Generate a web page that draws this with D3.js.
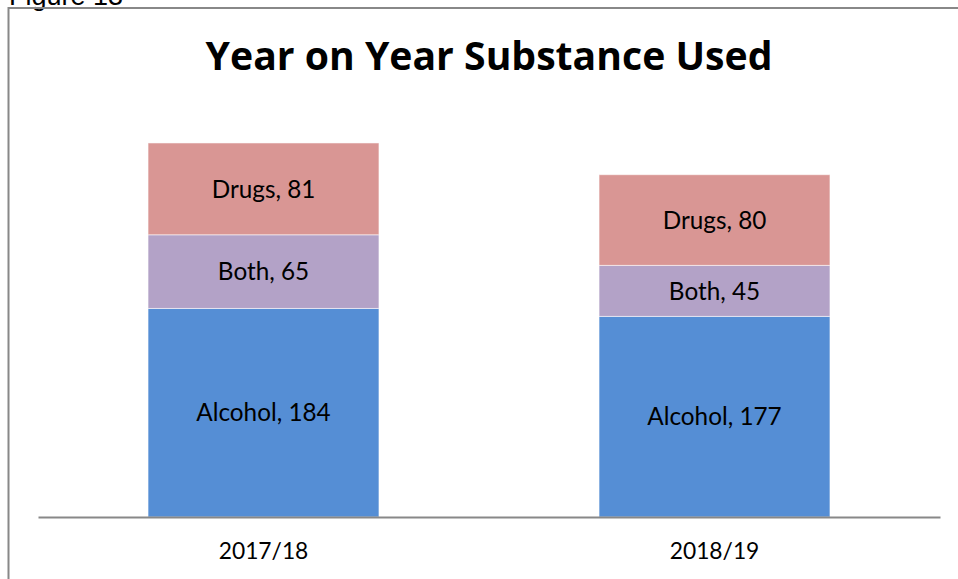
<!DOCTYPE html>
<html>
<head>
<meta charset="utf-8">
<script src="https://cdn.jsdelivr.net/npm/d3@7"></script>
<style>
  html, body { margin: 0; padding: 0; background: #fff; }
  svg { display: block; }
</style>
</head>
<body>
<svg id="chart" width="958" height="579"></svg>
<script>
// Substance use counts per reporting year, stacked bottom to top
const years = ["2017/18", "2018/19"];
const substances = ["Alcohol", "Both", "Drugs"];
const alcohol = [184, 177];
const both = [65, 45];
const drugs = [81, 80];
const colors = ["#558ED5", "#B3A2C7", "#D99694"];

const table = years.map((year, i) => ({
  year,
  Alcohol: alcohol[i],
  Both: both[i],
  Drugs: drugs[i]
}));

const font = "Lato, 'Open Sans', sans-serif";
const titleFont = "'Open Sans', Lato, sans-serif";
const svg = d3.select("#chart");

// Caption above the framed chart (partly clipped by the top edge)
svg.append("text")
  .attr("x", 9)
  .attr("y", 5)
  .attr("font-family", "Liberation Sans, Arial, sans-serif")
  .attr("font-size", 27)
  .attr("fill", "#000")
  .text("Figure 13");

// Chart frame
svg.append("rect")
  .attr("x", 8.5)
  .attr("y", 8)
  .attr("width", 960)
  .attr("height", 600)
  .attr("fill", "none")
  .attr("stroke", "#888")
  .attr("stroke-width", 2);

// Title, sized to span its slot across the top of the frame
const title = svg.append("text")
  .attr("x", 489)
  .attr("y", 70)
  .attr("text-anchor", "middle")
  .attr("font-family", titleFont)
  .attr("font-weight", "bold")
  .attr("font-size", 38)
  .attr("fill", "#000")
  .text("Year on Year Substance Used");
const titleWidth = title.node().getComputedTextLength();
if (titleWidth > 0) title.attr("font-size", 38 * 567 / titleWidth);

const x = d3.scaleBand()
  .domain(years)
  .range([38, 940])
  .paddingInner(0.488)
  .paddingOuter(0.244);

const y = d3.scaleLinear()
  .domain([0, 350])
  .range([517, 120.3]);

const series = d3.stack().keys(substances)(table);

const layer = svg.append("g")
  .selectAll("g")
  .data(series)
  .join("g")
  .attr("fill", (d, i) => colors[i]);

layer.selectAll("rect")
  .data(d => d.map(p => ({ p, key: d.key })))
  .join("rect")
  .attr("x", d => x(d.p.data.year))
  .attr("width", x.bandwidth())
  .attr("y", d => y(d.p[1]))
  .attr("height", d => y(d.p[0]) - y(d.p[1]))
  .attr("stroke", "rgba(255,255,255,0.55)")
  .attr("stroke-width", 1);

// Segment labels: "Name, value"
layer.selectAll("text")
  .data(d => d.map(p => ({ p, key: d.key })))
  .join("text")
  .attr("x", d => x(d.p.data.year) + x.bandwidth() / 2)
  .attr("y", d => (y(d.p[0]) + y(d.p[1])) / 2)
  .attr("dy", "0.36em")
  .attr("text-anchor", "middle")
  .attr("font-family", font)
  .attr("font-size", 24.3)
  .attr("fill", "#000")
  .text(d => `${d.key}, ${d.p.data[d.key]}`);

// Category axis
const axis = svg.append("g")
  .attr("transform", "translate(0,517)")
  .call(d3.axisBottom(x).tickSize(0));

axis.select(".domain")
  .attr("stroke", "#888")
  .attr("stroke-width", 2);

axis.selectAll(".tick text")
  .attr("y", 42)
  .attr("dy", 0)
  .attr("font-family", font)
  .attr("font-size", 22.8)
  .attr("fill", "#000");
</script>
</body>
</html>
